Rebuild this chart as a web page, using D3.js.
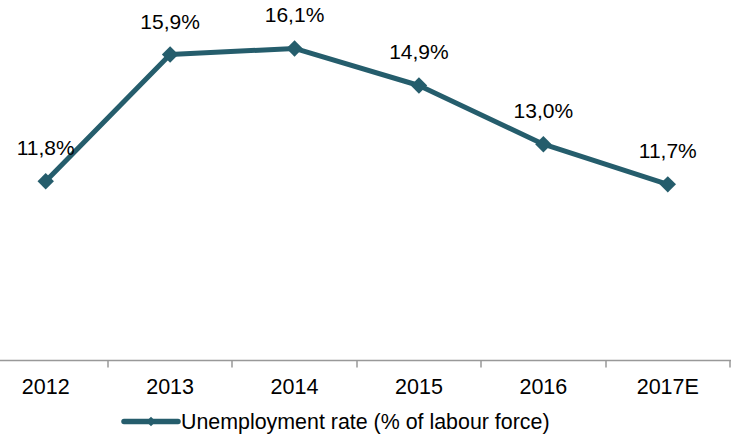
<!DOCTYPE html>
<html><head><meta charset="utf-8">
<script src="https://cdn.jsdelivr.net/npm/d3@7"></script>
<style>body{margin:0;background:#fff}svg{display:block}text{font-family:"Liberation Sans",Arial,sans-serif;fill:#000}</style>
</head><body><svg id="c" width="731" height="434"></svg>
<script>
const categories = ["2012","2013","2014","2015","2016","2017E"];
const values = [11.8,15.9,16.1,14.9,13.0,11.7];
const labels = ["11,8%","15,9%","16,1%","14,9%","13,0%","11,7%"];
const seriesName = "Unemployment rate (% of labour force)";

const svg = d3.select("#c");
const color = "#255d6c";
const x = d3.scaleBand().domain(categories).range([-16.5, 730]);
const y = d3.scaleLinear().domain([6, 18]).range([360.5, -10.3]);

const axisY = y(6);
svg.append("line").attr("x1",0).attr("x2",731).attr("y1",axisY).attr("y2",axisY)
  .attr("stroke","#999").attr("stroke-width",1.5);
categories.forEach((c,i)=>{
  if(i===0) return;
  const tx = Math.round(x(c));
  svg.append("line").attr("x1",tx).attr("x2",tx).attr("y1",axisY).attr("y2",axisY+7)
    .attr("stroke","#999").attr("stroke-width",1.5);
});
const endX = x.range()[1];
svg.append("line").attr("x1",endX).attr("x2",endX).attr("y1",axisY).attr("y2",axisY+7)
    .attr("stroke","#999").attr("stroke-width",1.5);

svg.selectAll("text.tick").data(categories).join("text").attr("class","tick")
  .attr("x",d=>x(d)+x.bandwidth()/2).attr("y",394).attr("text-anchor","middle")
  .attr("font-size",21.5).text(d=>d);

const cx = d=>x(d)+x.bandwidth()/2;
const line = d3.line().x((d,i)=>cx(categories[i])).y(d=>y(d));
svg.append("path").datum(values).attr("d",line).attr("fill","none")
  .attr("stroke",color).attr("stroke-width",5).attr("stroke-linejoin","round");

const diamond = d3.symbol().type(d3.symbolSquare).size(135);
svg.selectAll("path.m").data(values).join("path").attr("class","m")
  .attr("d",diamond).attr("fill",color)
  .attr("transform",(d,i)=>`translate(${cx(categories[i])},${y(d)}) rotate(45)`);

svg.selectAll("text.lbl").data(values).join("text").attr("class","lbl")
  .attr("x",(d,i)=>cx(categories[i])).attr("y",d=>y(d)-26).attr("text-anchor","middle")
  .attr("font-size",21).text((d,i)=>labels[i]);

svg.append("line").attr("x1",124).attr("x2",178).attr("y1",421.5).attr("y2",421.5)
  .attr("stroke",color).attr("stroke-width",5.5).attr("stroke-linecap","round");
svg.append("path").attr("d",d3.symbol().type(d3.symbolSquare).size(45)).attr("fill",color)
  .attr("transform","translate(151,421.5) rotate(45)");
svg.append("text").attr("x",181).attr("y",428.5).attr("font-size",21.4).text(seriesName);
</script></body></html>
